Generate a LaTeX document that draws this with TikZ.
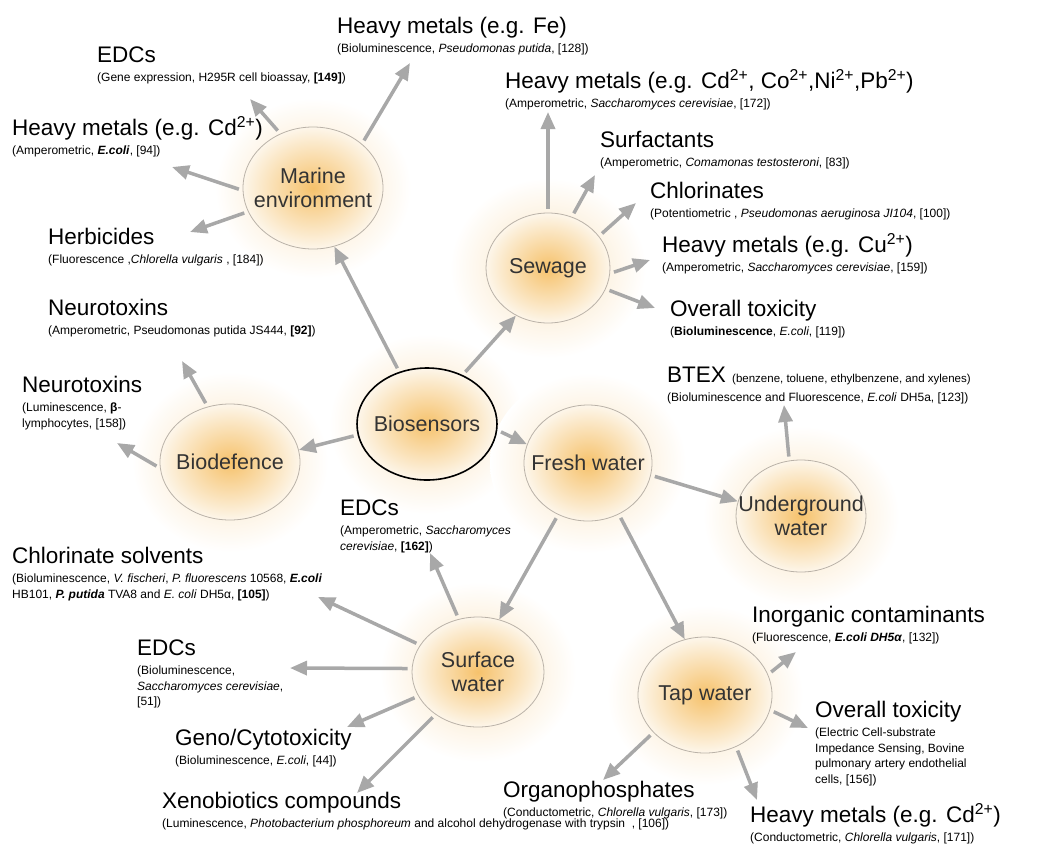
\documentclass[tikz,border=0pt]{standalone}
\usepackage{fontspec}
\setmainfont{Liberation Sans}
\usetikzlibrary{arrows.meta,shapes.geometric,positioning,backgrounds}
\definecolor{glow}{RGB}{246,194,108}
\definecolor{glowedge}{RGB}{253,246,234}
\definecolor{haze}{RGB}{250,226,188}
\definecolor{rim}{RGB}{186,178,168}
\definecolor{shaft}{RGB}{168,168,168}
\begin{document}
\begin{tikzpicture}[x=1pt,y=-1pt,>={Triangle[length=17pt,width=14pt]},
  hub/.style={ellipse,draw=rim,line width=0.8pt,inner color=glow,outer color=glowedge,minimum width=130pt,minimum height=114pt},
  hubtext/.style={font=\fontsize{21.5}{24.5}\selectfont,align=center,text=black!80},
  halo/.style={inner color=haze,outer color=white},
  topic/.style={font=\fontsize{22.5}{26}\selectfont,inner sep=0pt,anchor=base west},
  detail/.style={font=\fontsize{12}{15.5}\selectfont,inner sep=0pt,align=left},
  arr/.style={->,draw=shaft,line width=3.5pt,shorten <=4pt}]
  \useasboundingbox (0,0) rectangle (1038,847);
  \node[hub,minimum width=140pt,minimum height=122pt,label={[hubtext]center:Marine\\environment}] (mar) at (313,188) {};
  \node[hub,minimum width=124pt,minimum height=110pt,label={[hubtext]center:Sewage}] (sew) at (548,268) {};
  \node[hub,draw=black,line width=1.6pt,minimum width=140pt,minimum height=112pt,label={[hubtext]center:Biosensors}] (bio) at (427,424) {};
  \node[hub,minimum width=140pt,minimum height=116pt,label={[hubtext]center:Biodefence}] (bdf) at (230,462) {};
  \node[hub,minimum width=128pt,minimum height=116pt,label={[hubtext]center:Fresh water}] (fre) at (588,463) {};
  \node[hub,minimum width=130pt,minimum height=112pt,label={[hubtext]center:Underground\\water}] (und) at (801,516) {};
  \node[hub,minimum width=132pt,minimum height=110pt,label={[hubtext]center:Surface\\water}] (sur) at (478,672) {};
  \node[hub,minimum width=134pt,minimum height=116pt,label={[hubtext]center:Tap water}] (tap) at (705,695) {};
  \begin{pgfonlayer}{background}
    \foreach \n in {mar,sew,bio,bdf,fre,und,sur,tap}
      \path[halo] (\n) ellipse [x radius=98pt,y radius=90pt];
  \end{pgfonlayer}

  \node[topic] (tEdcG) at (97,62) {EDCs};
  \node[detail,below right=11pt and 0pt of tEdcG.base west] (dEdcG) {(Gene expression, H295R cell bioassay, \textbf{[149]})};
  \node[topic] (tFe) at (337,33) {Heavy metals (e.g. Fe)};
  \node[detail,below right=11pt and 0pt of tFe.base west] (dFe) {(Bioluminescence, \textit{Pseudomonas putida}, [128])};
  \node[topic] (tCdM) at (12,135) {Heavy metals (e.g. Cd\textsuperscript{2+})};
  \node[detail,below right=11pt and 0pt of tCdM.base west] (dCdM) {(Amperometric, \textbf{\textit{E.coli}}, [94])};
  \node[topic] (tHerb) at (48,244) {Herbicides};
  \node[detail,below right=11pt and 0pt of tHerb.base west] (dHerb) {(Fluorescence ,\textit{Chlorella vulgaris} , [184])};
  \node[topic] (tMix) at (505,88) {Heavy metals (e.g. Cd\textsuperscript{2+}, Co\textsuperscript{2+},Ni\textsuperscript{2+},Pb\textsuperscript{2+})};
  \node[detail,below right=11pt and 0pt of tMix.base west] (dMix) {(Amperometric, \textit{Saccharomyces cerevisiae}, [172])};
  \node[topic] (tSurf) at (600,147) {Surfactants};
  \node[detail,below right=11pt and 0pt of tSurf.base west] (dSurf) {(Amperometric, \textit{Comamonas testosteroni}, [83])};
  \node[topic] (tChl) at (650,198) {Chlorinates};
  \node[detail,below right=11pt and 0pt of tChl.base west] (dChl) {(Potentiometric , \textit{Pseudomonas aeruginosa JI104}, [100])};
  \node[topic] (tCu) at (662,252) {Heavy metals (e.g. Cu\textsuperscript{2+})};
  \node[detail,below right=11pt and 0pt of tCu.base west] (dCu) {(Amperometric, \textit{Saccharomyces cerevisiae}, [159])};
  \node[topic] (tTox) at (670,316) {Overall toxicity};
  \node[detail,below right=11pt and 0pt of tTox.base west] (dTox) {(\textbf{Bioluminescence}, \textit{E.coli}, [119])};
  \node[topic] (tNeuA) at (48,315) {Neurotoxins};
  \node[detail,below right=11pt and 0pt of tNeuA.base west] (dNeuA) {(Amperometric, Pseudomonas putida JS444, \textbf{[92]})};
  \node[topic] (tNeuL) at (22,392) {Neurotoxins};
  \node[detail,below right=11pt and 0pt of tNeuL.base west] (dNeuL) {(Luminescence, \textbf{β}-\\lymphocytes, [158])};
  \node[topic] (tBtex) at (667,382) {BTEX {\fontsize{11.5}{14}\selectfont (benzene, toluene, ethylbenzene, and xylenes)}};
  \node[detail,below right=11pt and 0pt of tBtex.base west] (dBtex) {(Bioluminescence and Fluorescence, \textit{E.coli} DH5a, [123])};
  \node[topic] (tEdcA) at (340,515) {EDCs};
  \node[detail,below right=11pt and 0pt of tEdcA.base west] (dEdcA) {(Amperometric, \textit{Saccharomyces}\\\textit{cerevisiae}, \textbf{[162]})};
  \node[topic] (tSolv) at (12,563) {Chlorinate solvents};
  \node[detail,below right=11pt and 0pt of tSolv.base west] (dSolv) {(Bioluminescence, \textit{V. fischeri}, \textit{P. fluorescens} 10568, \textbf{\textit{E.coli}}\\HB101, \textbf{\textit{P. putida}} TVA8 and \textit{E. coli} DH5α, \textbf{[105]})};
  \node[topic] (tEdcB) at (137,655) {EDCs};
  \node[detail,below right=11pt and 0pt of tEdcB.base west] (dEdcB) {(Bioluminescence,\\\textit{Saccharomyces cerevisiae},\\{}[51])};
  \node[topic] (tGeno) at (175,745) {Geno/Cytotoxicity};
  \node[detail,below right=11pt and 0pt of tGeno.base west] (dGeno) {(Bioluminescence, \textit{E.coli}, [44])};
  \node[topic] (tXeno) at (162,808) {Xenobiotics compounds};
  \node[detail,below right=11pt and 0pt of tXeno.base west] (dXeno) {(Luminescence, \textit{Photobacterium phosphoreum} and alcohol dehydrogenase with trypsin~~, [106])};
  \node[topic] (tInorg) at (752,622) {Inorganic contaminants};
  \node[detail,below right=11pt and 0pt of tInorg.base west] (dInorg) {(Fluorescence, \textbf{\textit{E.coli DH5α}}, [132])};
  \node[topic] (tTapTox) at (815,717) {Overall toxicity};
  \node[detail,below right=11pt and 0pt of tTapTox.base west] (dTapTox) {(Electric Cell-substrate\\Impedance Sensing, Bovine\\pulmonary artery endothelial\\cells, [156])};
  \node[topic] (tOrg) at (503,797) {Organophosphates};
  \node[detail,below right=11pt and 0pt of tOrg.base west] (dOrg) {(Conductometric, \textit{Chlorella vulgaris}, [173])};
  \node[topic] (tCdT) at (750,822) {Heavy metals (e.g. Cd\textsuperscript{2+})};
  \node[detail,below right=11pt and 0pt of tCdT.base west] (dCdT) {(Conductometric, \textit{Chlorella vulgaris}, [171])};

  \coordinate (aEdcG) at (250,99);
  \coordinate (aFe) at (410,63);
  \coordinate (aCdM) at (172,167);
  \coordinate (aHerb) at (190,232);
  \coordinate (aMix) at (548,112);
  \coordinate (aSurf) at (595,175);
  \coordinate (aChl) at (636,203);
  \coordinate (aCu) at (650,260);
  \coordinate (aTox) at (655,308);
  \coordinate (aNeuA) at (182,361);
  \coordinate (aNeuL) at (117,443);
  \coordinate (aBtex) at (784,405);
  \coordinate (aEdcA) at (430,553);
  \coordinate (aSolv) at (318,597);
  \coordinate (aEdcB) at (290,668);
  \coordinate (aGeno) at (347,727);
  \coordinate (aXeno) at (357,793);
  \coordinate (aInorg) at (796,652);
  \coordinate (aTapTox) at (808,728);
  \coordinate (aCdT) at (757,800);
  \coordinate (aOrg) at (603,780);

  \draw[arr] (bio.118) -- (mar.-70);
  \draw[arr] (bio.54) -- (sew.236);
  \draw[arr] (bio.189) -- (bdf.10);
  \draw[arr] (bio.-5) -- (fre.163);
  \draw[arr] (fre.-11) -- (und.167);
  \draw[arr] (fre.240) -- (sur.68);
  \draw[arr] (fre.301) -- (tap.110);
  \draw[arr] (mar.121) -- (aEdcG);
  \draw[arr] (mar.42) -- (aFe);
  \draw[arr] (mar.182) -- (aCdM);
  \draw[arr] (mar.200) -- (aHerb);
  \draw[arr] (sew.90) -- (aMix);
  \draw[arr] (sew.65) -- (aSurf);
  \draw[arr] (sew.32) -- (aChl);
  \draw[arr] (sew.-5) -- (aCu);
  \draw[arr] (sew.-20) -- (aTox);
  \draw[arr] (bdf.112) -- (aNeuA);
  \draw[arr] (bdf.185) -- (aNeuL);
  \draw[arr] (und.102) -- (aBtex);
  \draw[arr] (sur.110) -- (aEdcA);
  \draw[arr] (sur.155) -- (aSolv);
  \draw[arr] (sur.177) -- (aEdcB);
  \draw[arr] (sur.202) -- (aGeno);
  \draw[arr] (sur.225) -- (aXeno);
  \draw[arr] (tap.18) -- (aInorg);
  \draw[arr] (tap.-13) -- (aTapTox);
  \draw[arr] (tap.-59) -- (aCdT);
  \draw[arr] (tap.216) -- (aOrg);
\end{tikzpicture}
\end{document}
